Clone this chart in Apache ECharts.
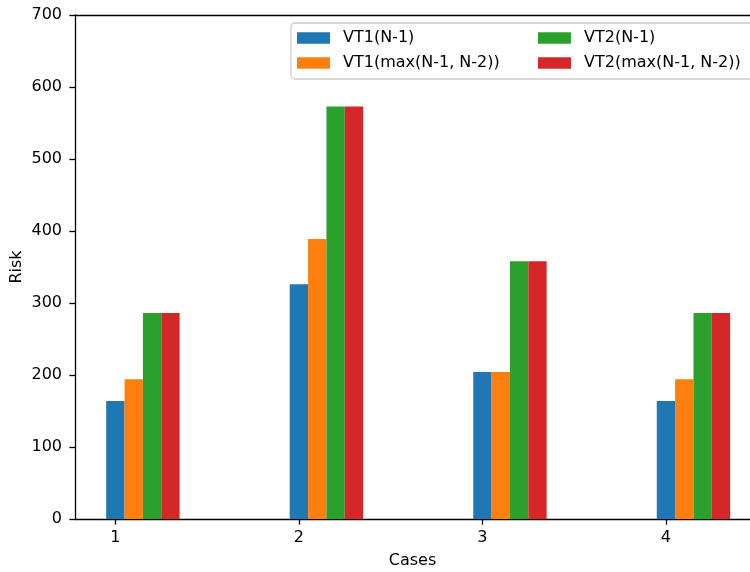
<!DOCTYPE html>
<html>
<head>
<meta charset="utf-8">
<script src="https://cdn.jsdelivr.net/npm/echarts@6/dist/echarts.min.js"></script>
<style>
html,body{margin:0;padding:0;background:#fff;}
#chart{width:750px;height:572px;}
</style>
</head>
<body>
<div id="chart"></div>
<script>
// ---- data ----
const cases = [1, 2, 3, 4];
const seriesNames = ['VT1(N-1)', 'VT1(max(N-1, N-2))', 'VT2(N-1)', 'VT2(max(N-1, N-2))'];
const vt1N1 = [164, 326, 204, 164];
const vt1Max = [194, 389, 204, 194];
const vt2N1 = [286, 573, 358, 286];
const vt2Max = [286, 573, 358, 286];
const yTicks = [0, 100, 200, 300, 400, 500, 600, 700];

// ---- style ----
const colors = ['#1f77b4', '#ff7f0e', '#2ca02c', '#d62728'];
const FONT = 'DejaVu Sans';
const FS = 16;
const BAR_W = 0.1;
const X_MIN = 0.78;
const X_MAX = 4.458;

function makeSeries(idx, values) {
  return {
    type: 'custom',
    name: seriesNames[idx],
    data: cases.map((c, i) => [c, values[i]]),
    encode: { x: 0, y: 1 },
    itemStyle: { color: colors[idx] },
    clip: true,
    renderItem: function (params, api) {
      const xc = api.value(0) + idx * BAR_W;
      const lo = api.coord([xc - BAR_W / 2, 0]);
      const hi = api.coord([xc + BAR_W / 2, api.value(1)]);
      return {
        type: 'rect',
        shape: { x: lo[0], y: hi[1], width: hi[0] - lo[0], height: lo[1] - hi[1] },
        style: { fill: colors[idx] }
      };
    }
  };
}

const chart = echarts.init(document.getElementById('chart'), null, { renderer: 'canvas' });

const legendCommon = {
  orient: 'vertical',
  top: 30,
  padding: 0,
  itemWidth: 33,
  itemHeight: 11.5,
  itemGap: 9,
  icon: 'rect',
  textStyle: { fontFamily: FONT, fontSize: FS, color: '#000', lineHeight: 16, padding: [0, 0, 0, 8] }
};

chart.setOption({
  animation: false,
  backgroundColor: '#fff',
  grid: {
    left: 75, top: 15, right: 0, height: 504,
    show: false, containLabel: false, outerBoundsMode: 'none'
  },
  legend: [
    Object.assign({}, legendCommon, { left: 297, data: [seriesNames[0], seriesNames[1]] }),
    Object.assign({}, legendCommon, { left: 538, data: [seriesNames[2], seriesNames[3]] })
  ],
  graphic: [{
    type: 'rect',
    z: 2,
    shape: { x: 291, y: 23, width: 470, height: 56, r: 4 },
    style: { fill: 'rgba(255,255,255,0.8)', stroke: '#cccccc', lineWidth: 1.3 }
  }],
  xAxis: [{
    type: 'value',
    min: X_MIN, max: X_MAX,
    name: 'Cases',
    nameLocation: 'middle',
    nameGap: 34,
    nameTextStyle: { fontFamily: FONT, fontSize: FS, color: '#000' },
    axisLine: { show: true, onZero: false, lineStyle: { color: '#000', width: 1.3 } },
    axisTick: { show: true, length: 5.7, lineStyle: { color: '#000', width: 1.3 }, customValues: cases },
    axisLabel: { fontFamily: FONT, fontSize: FS, color: '#000', margin: 11, customValues: cases, formatter: v => String(v) },
    splitLine: { show: false }
  }, {
    type: 'value',
    position: 'top',
    min: X_MIN, max: X_MAX,
    axisLine: { show: true, onZero: false, lineStyle: { color: '#000', width: 1.3 } },
    axisTick: { show: false },
    axisLabel: { show: false },
    splitLine: { show: false }
  }],
  yAxis: {
    type: 'value',
    min: yTicks[0], max: yTicks[yTicks.length - 1], interval: 100,
    name: 'Risk',
    nameLocation: 'middle',
    nameGap: 50,
    nameMoveOverlap: false,
    nameTextStyle: { fontFamily: FONT, fontSize: FS, color: '#000' },
    axisLine: { show: true, lineStyle: { color: '#000', width: 1.3 } },
    axisTick: { show: true, length: 5.7, lineStyle: { color: '#000', width: 1.3 } },
    axisLabel: { fontFamily: FONT, fontSize: FS, color: '#000', margin: 13 },
    splitLine: { show: false }
  },
  series: [
    makeSeries(0, vt1N1),
    makeSeries(1, vt1Max),
    makeSeries(2, vt2N1),
    makeSeries(3, vt2Max)
  ]
});
</script>
</body>
</html>
